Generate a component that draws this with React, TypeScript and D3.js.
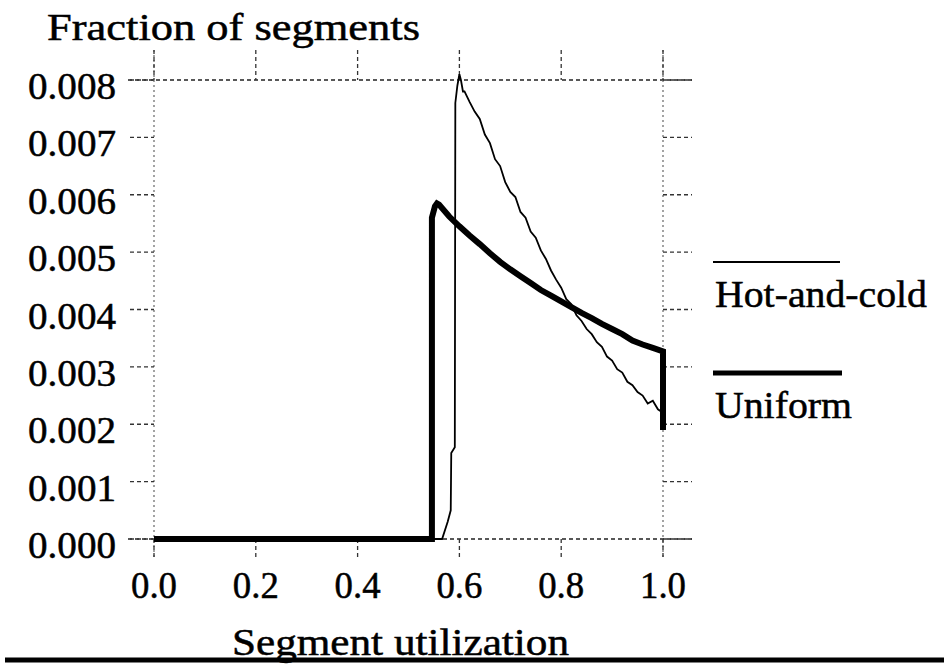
import React from 'react';
import * as d3 from 'd3';

const WIDTH = 944;
const HEIGHT = 664;
const FONT = "'Liberation Serif', 'Times New Roman', Times, serif";

// tick values and labels
const xTicks = [0, 0.2, 0.4, 0.6, 0.8, 1.0];
const xTickLabels = ['0.0', '0.2', '0.4', '0.6', '0.8', '1.0'];
const yTicks = [0, 0.001, 0.002, 0.003, 0.004, 0.005, 0.006, 0.007, 0.008];
const yTickLabels = ['0.000', '0.001', '0.002', '0.003', '0.004', '0.005', '0.006', '0.007', '0.008'];

// Hot-and-cold: x = segment utilization, y = fraction of segments
const hotColdX = [
  0, 0.566, 0.577, 0.583, 0.584, 0.591, 0.592, 0.596, 0.6, 0.603, 0.607,
  0.61, 0.62, 0.63, 0.64, 0.65, 0.66, 0.67, 0.68, 0.69, 0.7,
  0.71, 0.72, 0.73, 0.74, 0.75, 0.76, 0.77, 0.78, 0.79, 0.8,
  0.81, 0.82, 0.83, 0.84, 0.85, 0.86, 0.87, 0.88, 0.89, 0.9,
  0.91, 0.92, 0.93, 0.94, 0.95, 0.96, 0.97, 0.98, 0.99, 1.0, 1.0,
];
const hotColdY = [
  0, 0, 0.0003, 0.0005, 0.0015, 0.0016, 0.0076, 0.0079, 0.0081, 0.0080, 0.0078,
  0.0078, 0.00762, 0.00745, 0.00732, 0.00705, 0.0069, 0.00662, 0.0065, 0.00622, 0.00605,
  0.00596, 0.0057, 0.0056, 0.00536, 0.00525, 0.00503, 0.00488, 0.00468, 0.00452, 0.00438,
  0.00418, 0.00409, 0.0039, 0.0038, 0.00366, 0.00357, 0.00343, 0.00335, 0.00318, 0.00311,
  0.00296, 0.0029, 0.00274, 0.00268, 0.00256, 0.0025, 0.00236, 0.00241, 0.00226, 0.0022, 0.0019,
];

// Uniform
const uniformX = [
  0, 0.546, 0.546, 0.552, 0.556, 0.56, 0.58, 0.6, 0.62, 0.64, 0.66, 0.68, 0.7,
  0.72, 0.74, 0.76, 0.78, 0.8, 0.82, 0.84, 0.86, 0.88, 0.9, 0.92, 0.94, 0.96, 0.98, 1.0, 1.0,
];
const uniformY = [
  0, 0, 0.0056, 0.0058, 0.00585, 0.00583, 0.00562, 0.00545, 0.00529, 0.00514, 0.00498, 0.00483, 0.0047,
  0.00458, 0.00446, 0.00434, 0.00424, 0.00414, 0.00404, 0.00394, 0.00385, 0.00375, 0.00366, 0.00357,
  0.00346, 0.00339, 0.00333, 0.00327, 0.0019,
];

const x = d3.scaleLinear().domain([0, 1]).range([154, 663]);
const y = d3.scaleLinear().domain([0, 0.008]).range([539, 80]);

function path(xs: number[], ys: number[]) {
  return d3.line<number>()
    .x((d) => x(d))
    .y((_d, i) => y(ys[i]))
    .curve(d3.curveLinear)(xs) || '';
}

// text looks heavy and stretched in the scan
const textStyle = { fill: '#000', stroke: '#000', strokeWidth: 0.5, fontFamily: FONT };

export default function App() {
  const [x0, x1] = x.range();
  const [yBottom, yTop] = y.range();
  return (
    <svg
      width={WIDTH}
      height={HEIGHT}
      style={{ position: 'absolute', left: 0, top: 0, background: '#fff', fontFamily: FONT }}
    >
      {/* frame: dashed lines, extended past the corners */}
      <g fill="none">
        <line x1={128} x2={692} y1={yTop} y2={yTop} stroke="#222" strokeWidth={1.6} strokeDasharray="4 3" />
        <line x1={128} x2={692} y1={yBottom} y2={yBottom} stroke="#222" strokeWidth={1.6} strokeDasharray="4 3" />
        <line x1={x0} x2={x0} y1={50} y2={560} stroke="#666" strokeWidth={1.2} strokeDasharray="2 3" />
        <line x1={x1} x2={x1} y1={50} y2={560} stroke="#666" strokeWidth={1.2} strokeDasharray="2 3" />
      </g>

      {/* y ticks, left and right */}
      {yTicks.map((t, i) => (
        <g key={`y-${i}`}>
          <line x1={130} x2={x0} y1={y(t)} y2={y(t)} stroke="#333" strokeWidth={1.3} strokeDasharray="4 3" />
          <line x1={x1} x2={692} y1={y(t)} y2={y(t)} stroke="#333" strokeWidth={1.3} strokeDasharray="4 3" />
          <text x={28} y={y(t) + 19} fontSize={37} textLength={88} lengthAdjust="spacingAndGlyphs" style={textStyle}>
            {yTickLabels[i]}
          </text>
        </g>
      ))}

      {/* x ticks, top and bottom */}
      {xTicks.map((t, i) => (
        <g key={`x-${i}`}>
          <line x1={x(t)} x2={x(t)} y1={50} y2={yTop} stroke="#333" strokeWidth={1.3} strokeDasharray="4 3" />
          <line x1={x(t)} x2={x(t)} y1={yBottom} y2={560} stroke="#333" strokeWidth={1.3} strokeDasharray="4 3" />
          <text x={x(t) - 23} y={598} fontSize={37} textLength={46} lengthAdjust="spacingAndGlyphs" style={textStyle}>
            {xTickLabels[i]}
          </text>
        </g>
      ))}

      {/* series */}
      <path d={path(hotColdX, hotColdY)} fill="none" stroke="#000" strokeWidth={1.8} strokeLinejoin="miter" />
      <path d={path(uniformX, uniformY)} fill="none" stroke="#000" strokeWidth={6} strokeLinejoin="miter" />

      {/* legend */}
      <line x1={713} x2={840} y1={262} y2={262} stroke="#000" strokeWidth={1.8} />
      <text x={715} y={307} fontSize={38} textLength={212} lengthAdjust="spacingAndGlyphs" style={textStyle}>Hot-and-cold</text>
      <line x1={713} x2={842} y1={373} y2={373} stroke="#000" strokeWidth={5} />
      <text x={715} y={418} fontSize={38} textLength={137} lengthAdjust="spacingAndGlyphs" style={textStyle}>Uniform</text>

      {/* axis titles */}
      <text x={47} y={40} fontSize={38} textLength={373} lengthAdjust="spacingAndGlyphs" style={textStyle}>Fraction of segments</text>
      <text x={232} y={655} fontSize={38} textLength={337} lengthAdjust="spacingAndGlyphs" style={textStyle}>Segment utilization</text>

      {/* rule at the bottom */}
      <line x1={5} x2={WIDTH} y1={660} y2={660} stroke="#000" strokeWidth={5} />
    </svg>
  );
}
